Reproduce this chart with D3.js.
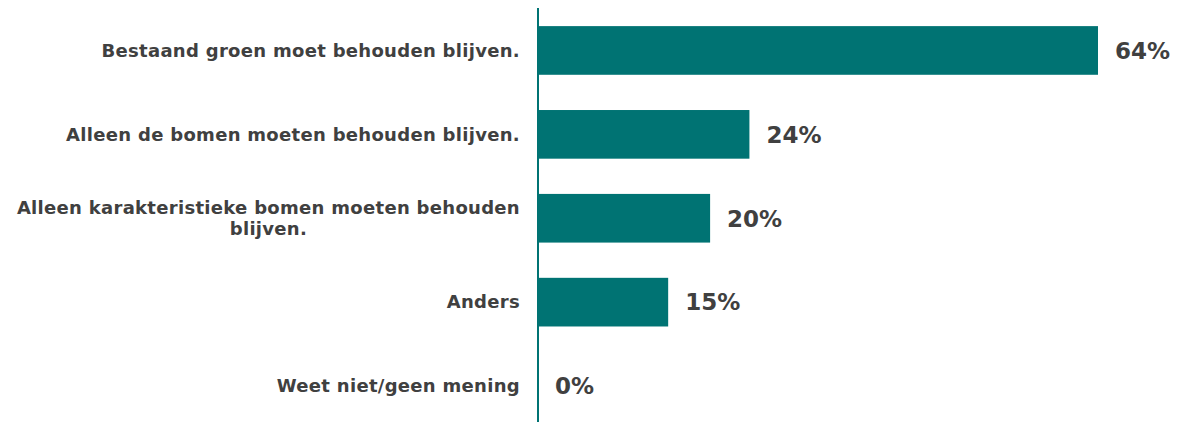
<!DOCTYPE html>
<html>
<head>
<meta charset="utf-8">
<script src="https://cdn.jsdelivr.net/npm/d3@7"></script>
<style>
  body { margin: 0; background: #fff; }
  #chart { width: 1191px; height: 422px; }
  .cat { font-family: "DejaVu Sans", Verdana, sans-serif; font-weight: bold; font-size: 18px; letter-spacing: 0.3px; fill: #404040; }
  .val { font-family: "DejaVu Sans", Verdana, sans-serif; font-weight: bold; font-size: 23px; fill: #404040; }
</style>
</head>
<body>
<div id="chart"></div>
<script>
const categories = [
  "Bestaand groen moet behouden blijven.",
  "Alleen de bomen moeten behouden blijven.",
  "Alleen karakteristieke bomen moeten behouden blijven.",
  "Anders",
  "Weet niet/geen mening"
];
const values = [64.1, 24.2, 19.7, 14.9, 0];

const width = 1191, height = 422;
const margin = {top: 8.5, left: 538, right: 93, bottom: -6};
const barColor = "#007373";

const svg = d3.select("#chart").append("svg")
  .attr("width", width)
  .attr("height", height);

const yScale = d3.scaleBand()
  .domain(categories)
  .range([margin.top, height - margin.bottom])
  .paddingInner(0.42)
  .paddingOuter(0.21);

const xScale = d3.scaleLinear()
  .domain([0, 64.1])
  .range([margin.left, 1098]);

const data = categories.map((c, i) => ({cat: c, value: values[i]}));

// bars
svg.selectAll("rect.bar")
  .data(data)
  .enter()
  .append("rect")
  .attr("class", "bar")
  .attr("x", xScale(0))
  .attr("y", d => yScale(d.cat))
  .attr("width", d => xScale(d.value) - xScale(0))
  .attr("height", yScale.bandwidth())
  .attr("fill", barColor);

// axis line
svg.append("line")
  .attr("x1", xScale(0)).attr("x2", xScale(0))
  .attr("y1", 8).attr("y2", height)
  .attr("stroke", barColor)
  .attr("stroke-width", 2);

// value labels
svg.selectAll("text.val")
  .data(data)
  .enter()
  .append("text")
  .attr("class", "val")
  .attr("x", d => xScale(d.value) + 17)
  .attr("y", d => yScale(d.cat) + yScale.bandwidth() / 2)
  .attr("dy", "0.36em")
  .text(d => Math.round(d.value) + "%");

// category labels, wrapped
const maxW = 512;
const labelRight = xScale(0) - 18;
data.forEach(function(d) {
  const t = svg.append("text").attr("class", "cat");
  const words = d.cat.split(" ");
  let lines = [], line = [];
  words.forEach(function(w) {
    line.push(w);
    t.text(line.join(" "));
    if (t.node().getComputedTextLength() > maxW && line.length > 1) {
      line.pop();
      lines.push(line.join(" "));
      line = [w];
    }
  });
  lines.push(line.join(" "));
  t.text(null);
  const cy = yScale(d.cat) + yScale.bandwidth() / 2;
  const lh = 21;
  const widths = lines.map(function(l) {
    const tmp = svg.append("text").attr("class", "cat").text(l);
    const w = tmp.node().getComputedTextLength();
    tmp.remove();
    return w;
  });
  const maxLine = d3.max(widths);
  lines.forEach(function(l, i) {
    t.append("tspan")
      .attr("x", labelRight - maxLine / 2)
      .attr("text-anchor", "middle")
      .attr("y", cy + (i - (lines.length - 1) / 2) * lh)
      .attr("dy", "0.35em")
      .text(l);
  });
});
</script>
</body>
</html>
